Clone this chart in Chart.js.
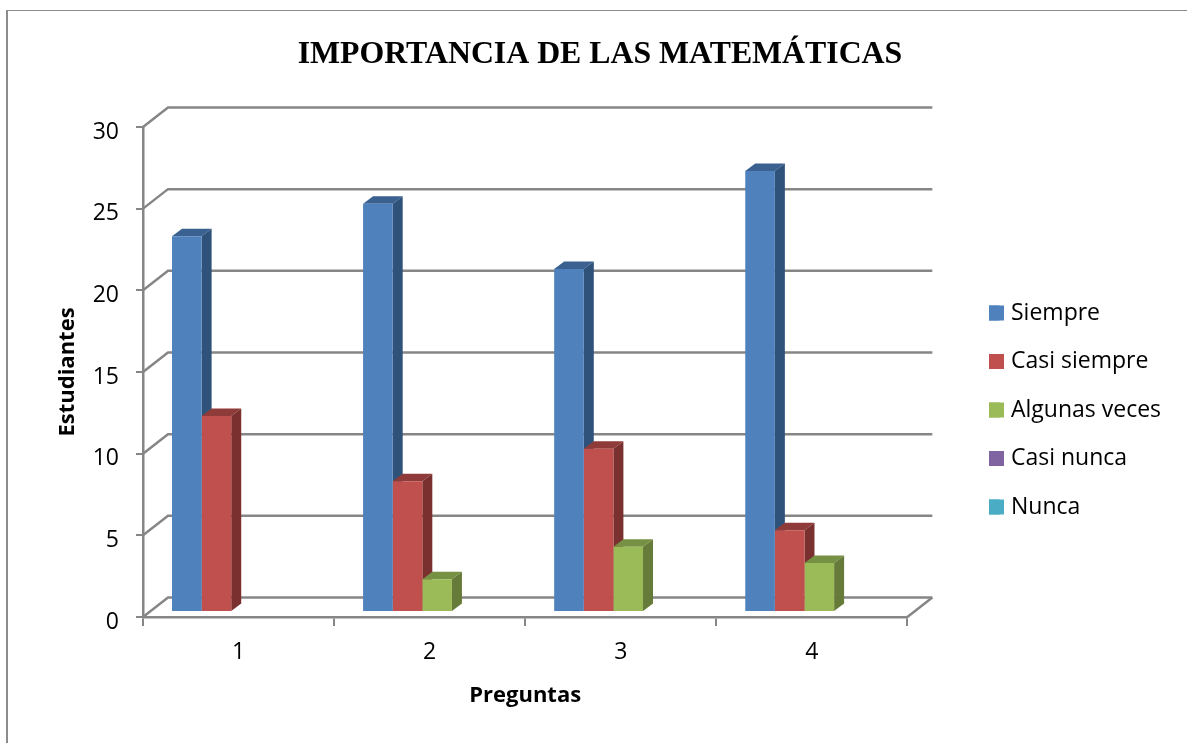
<!DOCTYPE html>
<html>
<head>
<meta charset="utf-8">
<style>
html, body { margin: 0; padding: 0; background: #fff; }
canvas { display: block; }
</style>
<script src="https://cdn.jsdelivr.net/npm/chart.js@4"></script>
</head>
<body>
<canvas id="grafico" width="1187" height="743"></canvas>
<script>
const preguntas = ['1', '2', '3', '4'];
const siempre = [23, 25, 21, 27];
const casiSiempre = [12, 8, 10, 5];
const algunasVeces = [0, 2, 4, 3];
const casiNunca = [0, 0, 0, 0];
const nunca = [0, 0, 0, 0];

const nombres = ['Siempre', 'Casi siempre', 'Algunas veces', 'Casi nunca', 'Nunca'];
const colores = ['#4F81BD', '#C0504D', '#9BBB59', '#8064A2', '#4BACC6'];
const coloresTecho = ['#3A6190', '#8F3B39', '#769044', '#5F4A7A', '#368399'];
const coloresLado = ['#2F527B', '#7A302E', '#667B39', '#514068', '#2C6D80'];

const GRIS = '#868686';
const FONDO_X = 25, FONDO_Y = 19.5;   // pared del fondo
const BARRA_X = 7.5, BARRA_Y = 5;     // plano de las barras
const PROF_X = 10, PROF_Y = 7.5;      // profundidad de cada barra

const efecto3d = {
    id: 'efecto3d',
    afterLayout(chart) {
        const l = chart.legend;
        l.left = 989 - l.options.labels.padding;
        l.top = 301.5 - l.options.labels.padding;
    },
    beforeDraw(chart) {
        const c = chart.ctx;
        c.save();
        c.fillStyle = '#8c8c8c';
        c.fillRect(6, 10, 2, 733);
        c.fillRect(6, 10, 1181, 1);
        c.restore();
    },
    beforeDatasetsDraw(chart) {
        const c = chart.ctx, a = chart.chartArea, ey = chart.scales.y;
        c.save();
        c.strokeStyle = GRIS;
        c.lineWidth = 2.5;
        ey.ticks.forEach(t => {
            const y = ey.getPixelForValue(t.value);
            c.beginPath();
            c.moveTo(a.left, y);
            c.lineTo(a.left + FONDO_X, y - FONDO_Y);
            c.lineTo(a.right + FONDO_X, y - FONDO_Y);
            c.stroke();
        });
        c.beginPath();
        c.moveTo(a.right, a.bottom);
        c.lineTo(a.right + FONDO_X, a.bottom - FONDO_Y);
        c.stroke();
        c.restore();

        c.save();
        c.translate(BARRA_X, -BARRA_Y);
        chart.data.datasets.forEach((ds, i) => {
            chart.getDatasetMeta(i).data.forEach((bar, j) => {
                if (!ds.data[j]) return;
                const p = bar.getProps(['x', 'y', 'base', 'width'], true);
                const izq = p.x - p.width / 2, der = p.x + p.width / 2;
                c.fillStyle = coloresTecho[i];
                c.beginPath();
                c.moveTo(izq, p.y);
                c.lineTo(izq + PROF_X, p.y - PROF_Y);
                c.lineTo(der + PROF_X, p.y - PROF_Y);
                c.lineTo(der, p.y);
                c.closePath();
                c.fill();
                c.fillStyle = coloresLado[i];
                c.beginPath();
                c.moveTo(der, p.y);
                c.lineTo(der + PROF_X, p.y - PROF_Y);
                c.lineTo(der + PROF_X, p.base - PROF_Y);
                c.lineTo(der, p.base);
                c.closePath();
                c.fill();
            });
        });
    },
    afterDatasetsDraw(chart) {
        chart.ctx.restore();
    },
    afterDraw(chart) {
        const c = chart.ctx;
        chart.legend.legendHitBoxes.forEach((h, i) => {
            c.fillStyle = colores[i];
            c.fillRect(h.left, h.top + (h.height - 15) / 2, 15, 15);
        });
    }
};

const series = [siempre, casiSiempre, algunasVeces, casiNunca, nunca];

new Chart(document.getElementById('grafico'), {
    type: 'bar',
    data: {
        labels: preguntas,
        datasets: series.map((s, i) => ({
            label: nombres[i],
            data: s,
            backgroundColor: colores[i],
            borderWidth: 0,
            categoryPercentage: 0.775,
            barPercentage: 1
        }))
    },
    options: {
        responsive: false,
        animation: false,
        layout: { padding: { left: 13, right: 0, top: 0, bottom: 34 } },
        plugins: {
            title: {
                display: true,
                text: 'IMPORTANCIA DE LAS MATEMÁTICAS',
                color: '#000',
                font: { family: '"Liberation Serif"', size: 31.8, weight: 'bold' },
                padding: { top: 36, bottom: 52.8 }
            },
            legend: {
                position: 'right',
                align: 'start',
                labels: {
                    color: '#000',
                    font: { family: '"Open Sans"', size: 23 },
                    boxWidth: 10.5,
                    boxHeight: 15,
                    padding: 25.5
                }
            },
            tooltip: { enabled: false }
        },
        scales: {
            x: {
                grid: { drawOnChartArea: false, drawTicks: true, tickLength: 9, color: GRIS, lineWidth: 2 },
                border: { color: GRIS, width: 2.5 },
                ticks: { color: '#000', font: { family: '"Open Sans"', size: 23 }, padding: 13, maxRotation: 0 },
                title: {
                    display: true,
                    text: 'Preguntas',
                    color: '#000',
                    font: { family: '"Open Sans"', size: 22, weight: 'bold' },
                    padding: 0
                },
                afterFit(s) { s.height = 92; }
            },
            y: {
                min: 0,
                max: 30,
                ticks: { stepSize: 5, color: '#000', font: { family: '"Open Sans"', size: 23 }, padding: 17, labelOffset: 5 },
                grid: { drawOnChartArea: false, drawTicks: true, tickLength: 7, color: GRIS, lineWidth: 2 },
                border: { color: GRIS, width: 2.5 },
                title: {
                    display: true,
                    text: 'Estudiantes',
                    color: '#000',
                    font: { family: '"Open Sans"', size: 22, weight: 'bold' },
                    padding: { top: 41.8, bottom: 0 }
                },
                afterFit(s) { s.width = 130; }
            },
            relleno: {
                position: 'right',
                grid: { display: false },
                border: { display: false },
                ticks: { display: false },
                afterFit(s) { s.width = 84; }
            }
        }
    },
    plugins: [efecto3d]
});
</script>
</body>
</html>
